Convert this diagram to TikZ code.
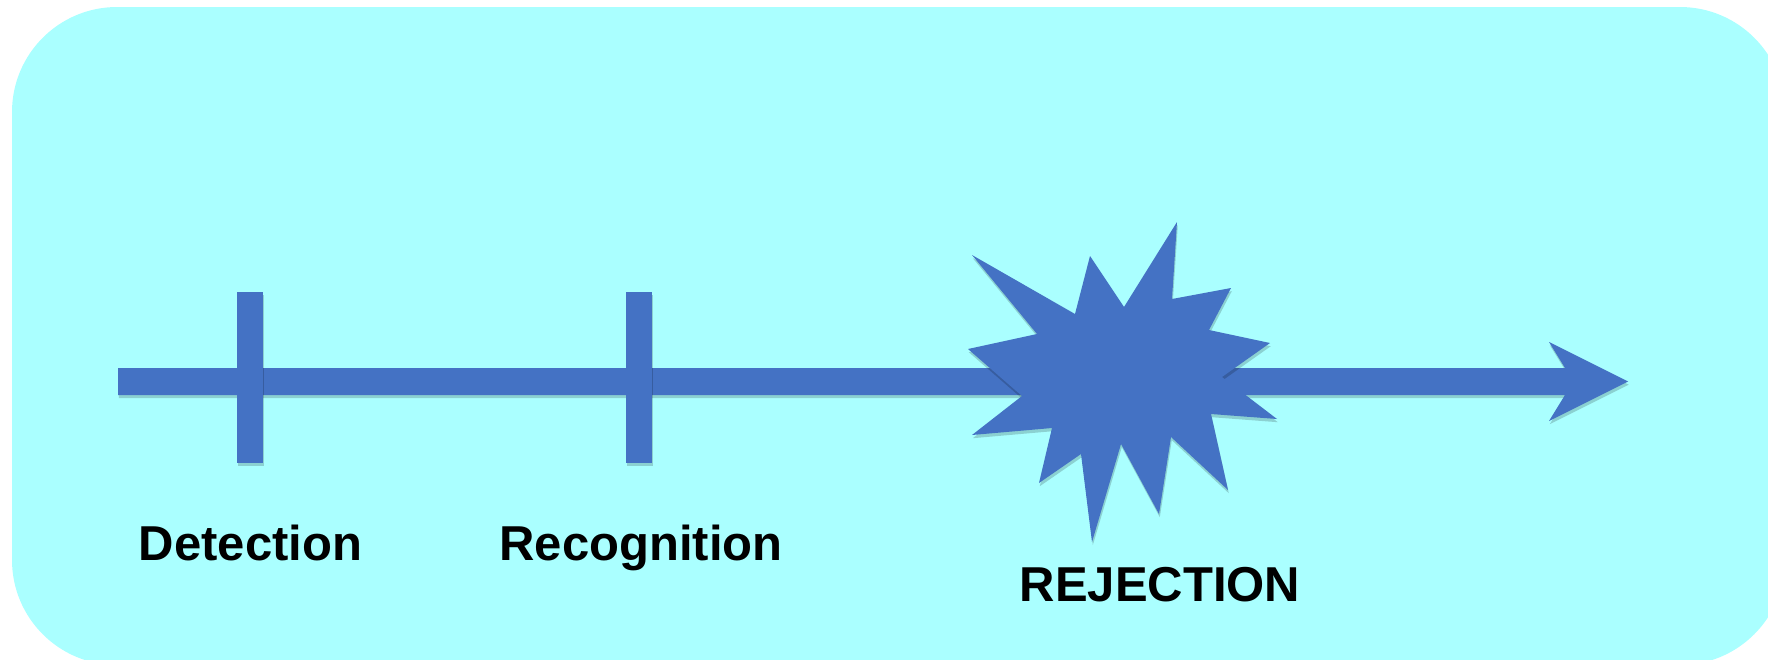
\documentclass[tikz,border=0pt]{standalone}
\usepackage{fontspec}
\setmainfont{Liberation Sans}
\usepackage{tikz}
\usetikzlibrary{positioning, arrows.meta, shadows}

\definecolor{bgcyan}{RGB}{170,255,255}
\definecolor{markblue}{RGB}{68,114,196}

\begin{document}
\begin{tikzpicture}[
    x=0.5pt, y=-0.5pt,
    shade/.style={drop shadow={shadow xshift=0.4pt, shadow yshift=-1.6pt, fill=black, opacity=0.18}},
    bluefill/.style={fill=markblue, draw=none, shade},
    tick/.style={bluefill, rectangle, minimum width=13pt, minimum height=85.5pt, inner sep=0pt},
    label/.style={font=\fontsize{24.5}{29}\selectfont\bfseries, anchor=base, inner sep=0pt}
]
\useasboundingbox (0,0) rectangle (1768,659);

% Background
\fill[bgcyan, rounded corners=52.5pt] (12,7) rectangle (1785,665);

% Timeline
\coordinate (start) at (118,381.5);
\coordinate (tip) at (1628,381.5);
\path[bluefill] (118,368) -- (1565,368) -- (1549,342) -- (tip) -- (1549,421)
    -- (1565,395) -- (118,395) -- cycle;

% Nodes
\node[tick] (det) at (250,377.5) {};
\node[tick] (rec) at (639,377.5) {};
\node[label] (detlabel) at (250.5,560) {Detection};
\node[label] (reclabel) at (641,560) {Recognition};

% Burst
\path[bluefill] (972,255) -- (1075,314) -- (1090,256) -- (1124,307) -- (1177,222)
    -- (1172,299) -- (1231,288) -- (1209,330) -- (1270,343) -- (1222,377)
    -- (1277,419) -- (1211,414) -- (1228,490) -- (1171,437) -- (1159,514)
    -- (1121,444) -- (1092,542) -- (1081,454) -- (1039,483) -- (1052,428)
    -- (972,435) -- (1022,396) -- (968,349) -- (1037,334) -- cycle;
\node[label] (rejlabel) at (1160,601) {REJECTION};

\end{tikzpicture}
\end{document}
